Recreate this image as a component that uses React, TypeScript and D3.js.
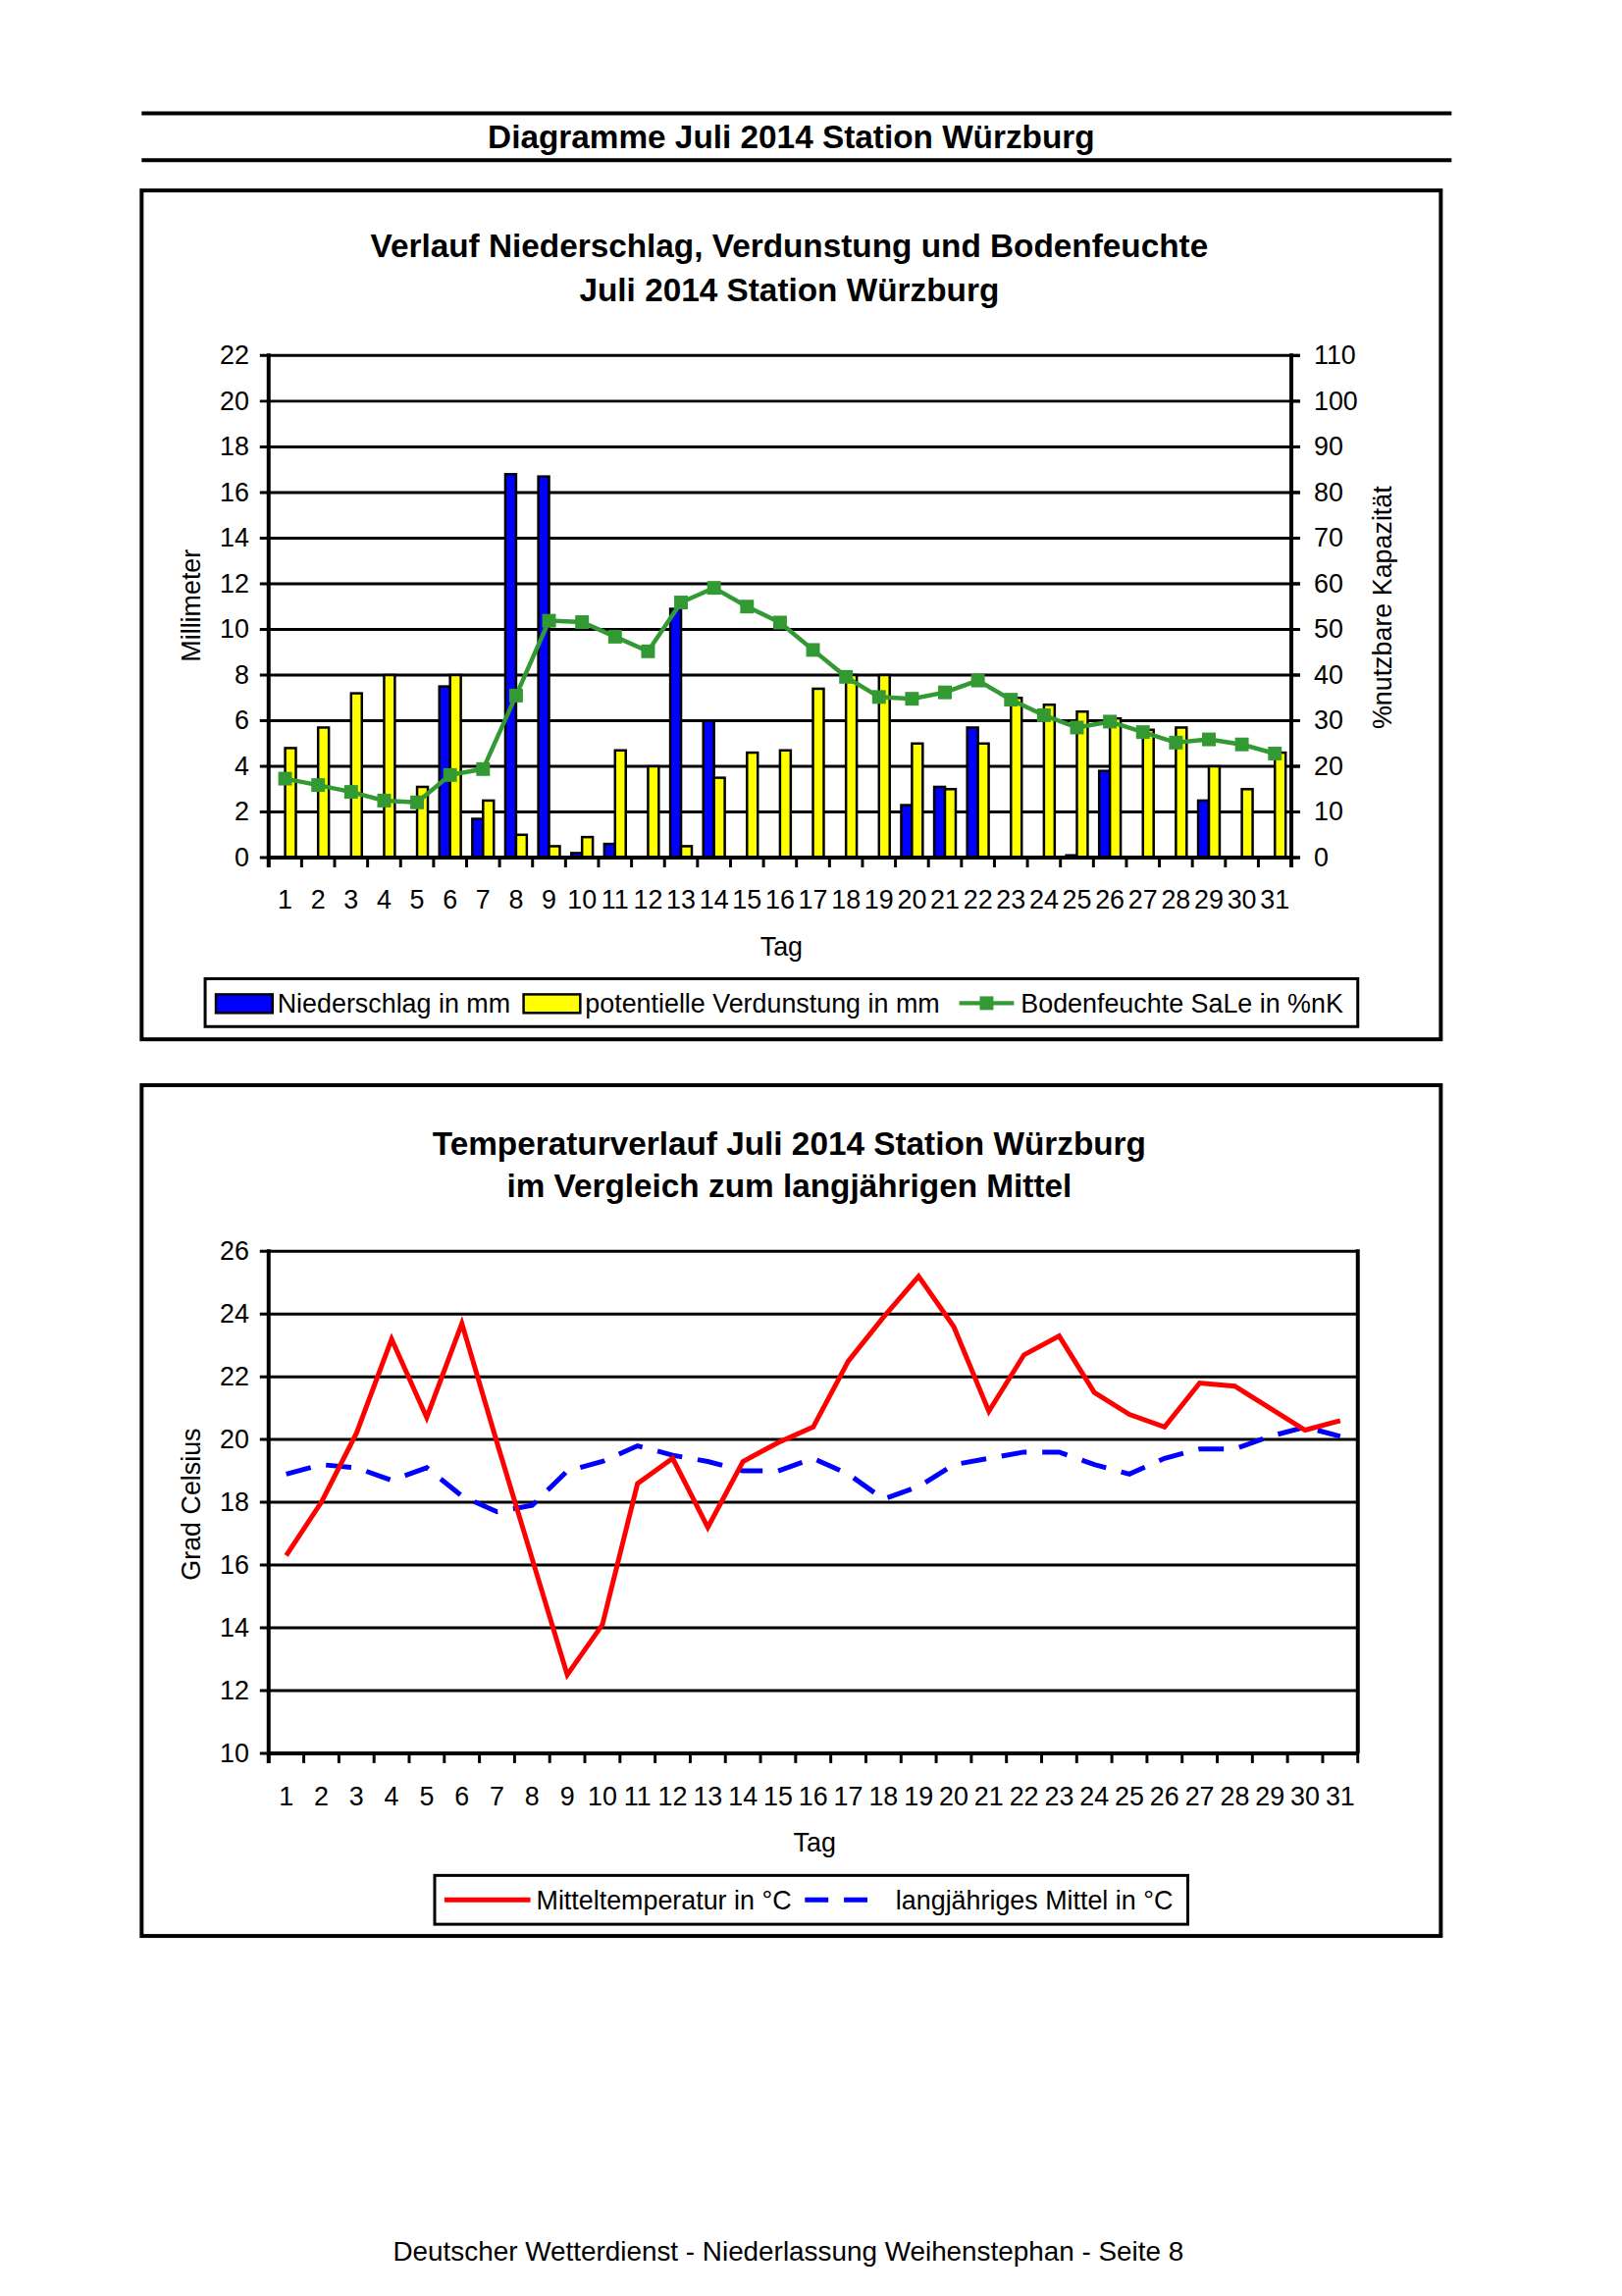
import React from 'react';
import * as d3 from 'd3';

const dayLabels = ['1', '2', '3', '4', '5', '6', '7', '8', '9', '10', '11', '12', '13', '14', '15', '16',
    '17', '18', '19', '20', '21', '22', '23', '24', '25', '26', '27', '28', '29', '30', '31'];

// mm
const niederschlag = [0, 0, 0, 0, 0, 7.5, 1.7, 16.8, 16.7, 0.2, 0.6, 0, 10.9, 6.0, 0, 0, 0, 0, 0, 2.3, 3.1, 5.7,
    0, 0, 0.1, 3.8, 0, 0, 2.5, 0, 0];
const verdunstung = [4.8, 5.7, 7.2, 8.0, 3.1, 8.0, 2.5, 1.0, 0.5, 0.9, 4.7, 4.0, 0.5, 3.5, 4.6, 4.7, 7.4, 8.0, 8.0,
    5.0, 3.0, 5.0, 7.0, 6.7, 6.4, 6.1, 5.6, 5.7, 4.0, 3.0, 4.6];
// %nK
const bodenfeuchte = [17.3, 15.9, 14.4, 12.5, 12.1, 18.1, 19.4, 35.5, 51.9, 51.6, 48.4, 45.2, 55.9, 59.1, 55.0, 51.5,
    45.5, 39.6, 35.2, 34.8, 36.2, 38.8, 34.6, 31.2, 28.5, 29.8, 27.5, 25.2, 25.9, 24.8, 22.8];

// °C
const mitteltemp = [16.3, 18.0, 20.2, 23.2, 20.7, 23.7, 19.9, 16.2, 12.5, 14.1, 18.6, 19.4, 17.2, 19.3, 19.9, 20.4,
    22.5, 23.9, 25.2, 23.6, 20.9, 22.7, 23.3, 21.5, 20.8, 20.4, 21.8, 21.7, 21.0, 20.3, 20.6];
const langMittel = [18.9, 19.2, 19.1, 18.7, 19.1, 18.2, 17.7, 17.9, 19.0, 19.3, 19.8, 19.5, 19.3, 19.0, 19.0, 19.4,
    18.9, 18.1, 18.5, 19.2, 19.4, 19.6, 19.6, 19.2, 18.9, 19.4, 19.7, 19.7, 20.1, 20.4, 20.1];

const mmTicks = [0, 2, 4, 6, 8, 10, 12, 14, 16, 18, 20, 22];
const pctTicks = [0, 10, 20, 30, 40, 50, 60, 70, 80, 90, 100, 110];
const tempTicks = [10, 12, 14, 16, 18, 20, 22, 24, 26];

const FONT = 'Liberation Sans, Arial, sans-serif';
const GREEN = '#339933';
const TITLE_SIZE = 33.5;

function Chart1() {
    const m = {left: 275, right: 1322, top: 364, bottom: 878};
    const x = d3.scaleBand().domain(dayLabels).range([m.left, m.right]);
    const pair = d3.scaleBand().domain(['n', 'v']).range([0, 22]);
    const off = (x.bandwidth() - 22) / 2;
    const y = d3.scaleLinear().domain([0, 22]).range([m.bottom, m.top]);
    const y2 = d3.scaleLinear().domain([0, 110]).range([m.bottom, m.top]);
    const cx = (d: string) => (x(d) as number) + x.bandwidth() / 2;
    const line = d3.line<number>().x((_, i) => cx(dayLabels[i])).y(d => y2(d));
    const boundaries = dayLabels.map(d => x(d) as number).concat([m.right]);

    return (
        <g fontFamily={FONT}>
            <rect x={145} y={195} width={1330} height={869} fill="white" stroke="black" strokeWidth={4}/>
            <text x={808} y={263} textAnchor="middle" fontWeight="bold" fontSize={TITLE_SIZE}>
                Verlauf Niederschlag, Verdunstung und Bodenfeuchte
            </text>
            <text x={808} y={308} textAnchor="middle" fontWeight="bold" fontSize={TITLE_SIZE}>
                Juli 2014 Station Würzburg
            </text>
            {mmTicks.map(t => (
                <g key={'g' + t}>
                    <line x1={m.left - 9} x2={m.right + 9} y1={y(t)} y2={y(t)} stroke="black" strokeWidth={3}/>
                    <text x={255} y={y(t) + 9} textAnchor="end" fontSize={27}>{t}</text>
                </g>
            ))}
            {pctTicks.map(t => (
                <text key={'p' + t} x={1345} y={y2(t) + 9} fontSize={27}>{t}</text>
            ))}
            {dayLabels.map((d, i) => (
                <g key={'b' + d}>
                    {niederschlag[i] > 0 && (
                        <rect x={(x(d) as number) + off + (pair('n') as number)} y={y(niederschlag[i])}
                              width={pair.bandwidth()} height={y(0) - y(niederschlag[i])}
                              fill="#0000FF" stroke="black" strokeWidth={2.5}/>
                    )}
                    <rect x={(x(d) as number) + off + (pair('v') as number)} y={y(verdunstung[i])}
                          width={pair.bandwidth()} height={y(0) - y(verdunstung[i])}
                          fill="#FFFF00" stroke="black" strokeWidth={2.5}/>
                </g>
            ))}
            <path d={line(bodenfeuchte) as string} fill="none" stroke={GREEN} strokeWidth={4.5}/>
            {bodenfeuchte.map((v, i) => (
                <rect key={'m' + i} x={cx(dayLabels[i]) - 7} y={y2(v) - 7} width={14} height={14} fill={GREEN}/>
            ))}
            <line x1={m.left} x2={m.left} y1={m.top - 2} y2={m.bottom + 10} stroke="black" strokeWidth={4}/>
            <line x1={m.right} x2={m.right} y1={m.top - 2} y2={m.bottom + 10} stroke="black" strokeWidth={4}/>
            <line x1={m.left} x2={m.right} y1={m.bottom} y2={m.bottom} stroke="black" strokeWidth={4}/>
            {pctTicks.map(t => (
                <line key={'rt' + t} x1={m.right} x2={m.right + 9} y1={y2(t)} y2={y2(t)} stroke="black" strokeWidth={3}/>
            ))}
            {boundaries.map((b, i) => (
                <line key={'xt' + i} x1={b} x2={b} y1={m.bottom} y2={m.bottom + 10} stroke="black" strokeWidth={3}/>
            ))}
            {dayLabels.map(d => (
                <text key={'xl' + d} x={cx(d)} y={930} textAnchor="middle" fontSize={27}>{d}</text>
            ))}
            <text x={800} y={978} textAnchor="middle" fontSize={27}>Tag</text>
            <text transform="translate(205,620) rotate(-90)" textAnchor="middle" fontSize={27}>Millimeter</text>
            <text transform="translate(1424,622) rotate(-90)" textAnchor="middle" fontSize={27}>%nutzbare Kapazität</text>

            <rect x={210} y={1002} width={1180} height={49} fill="white" stroke="black" strokeWidth={3}/>
            <rect x={221} y={1018} width={58} height={19} fill="#0000FF" stroke="black" strokeWidth={2.5}/>
            <text x={284} y={1037} fontSize={27}>Niederschlag in mm</text>
            <rect x={536} y={1018} width={58} height={19} fill="#FFFF00" stroke="black" strokeWidth={2.5}/>
            <text x={599} y={1037} fontSize={27}>potentielle Verdunstung in mm</text>
            <line x1={982} x2={1038} y1={1027} y2={1027} stroke={GREEN} strokeWidth={4.5}/>
            <rect x={1003} y={1020} width={14} height={14} fill={GREEN}/>
            <text x={1045} y={1037} fontSize={27}>Bodenfeuchte SaLe in %nK</text>
        </g>
    );
}

function Chart2() {
    const m = {left: 275, right: 1390, top: 1281, bottom: 1795};
    const x = d3.scaleBand().domain(dayLabels).range([m.left, m.right]);
    const y = d3.scaleLinear().domain([10, 26]).range([m.bottom, m.top]);
    const cx = (d: string) => (x(d) as number) + x.bandwidth() / 2;
    const line = d3.line<number>().x((_, i) => cx(dayLabels[i])).y(d => y(d));
    const boundaries = dayLabels.map(d => x(d) as number).concat([m.right]);

    return (
        <g fontFamily={FONT}>
            <rect x={145} y={1111} width={1330} height={871} fill="white" stroke="black" strokeWidth={4}/>
            <text x={808} y={1182} textAnchor="middle" fontWeight="bold" fontSize={TITLE_SIZE}>
                Temperaturverlauf Juli 2014 Station Würzburg
            </text>
            <text x={808} y={1226} textAnchor="middle" fontWeight="bold" fontSize={TITLE_SIZE}>
                im Vergleich zum langjährigen Mittel
            </text>
            {tempTicks.map(t => (
                <g key={'g' + t}>
                    <line x1={m.left - 9} x2={m.right} y1={y(t)} y2={y(t)} stroke="black" strokeWidth={3}/>
                    <text x={255} y={y(t) + 9} textAnchor="end" fontSize={27}>{t}</text>
                </g>
            ))}
            <line x1={m.left} x2={m.left} y1={m.top - 2} y2={m.bottom + 10} stroke="black" strokeWidth={4}/>
            <line x1={m.right} x2={m.right} y1={m.top - 2} y2={m.bottom} stroke="black" strokeWidth={4}/>
            <line x1={m.left} x2={m.right} y1={m.bottom} y2={m.bottom} stroke="black" strokeWidth={4}/>
            {boundaries.map((b, i) => (
                <line key={'xt' + i} x1={b} x2={b} y1={m.bottom} y2={m.bottom + 10} stroke="black" strokeWidth={3}/>
            ))}
            <path d={line(langMittel) as string} fill="none" stroke="#0000FF" strokeWidth={5}
                  strokeDasharray="26 16"/>
            <path d={line(mitteltemp) as string} fill="none" stroke="#FF0000" strokeWidth={5}/>
            {dayLabels.map(d => (
                <text key={'xl' + d} x={cx(d)} y={1848} textAnchor="middle" fontSize={27}>{d}</text>
            ))}
            <text x={834} y={1896} textAnchor="middle" fontSize={27}>Tag</text>
            <text transform="translate(205,1540) rotate(-90)" textAnchor="middle" fontSize={27}>Grad Celsius</text>

            <rect x={445} y={1920} width={771} height={50} fill="white" stroke="black" strokeWidth={3}/>
            <line x1={455} x2={543} y1={1945} y2={1945} stroke="#FF0000" strokeWidth={5}/>
            <text x={549} y={1955} fontSize={27}>Mitteltemperatur in °C</text>
            <line x1={824} x2={903} y1={1945} y2={1945} stroke="#0000FF" strokeWidth={5} strokeDasharray="24 16"/>
            <text x={917} y={1955} fontSize={27}>langjähriges Mittel in °C</text>
        </g>
    );
}

export default function App() {
    return (
        <svg width={1653} height={2340} viewBox="0 0 1653 2340"
             style={{position: 'absolute', left: 0, top: 0, background: 'white'}}>
            <rect width={1653} height={2340} fill="white"/>
            {/* whole page was measured a touch too large */}
            <g transform="scale(0.9955)">
                <line x1={145} x2={1486} y1={116} y2={116} stroke="black" strokeWidth={4}/>
                <text x={810} y={152} textAnchor="middle" fontFamily={FONT} fontWeight="bold" fontSize={TITLE_SIZE}>
                    Diagramme Juli 2014 Station Würzburg
                </text>
                <line x1={145} x2={1486} y1={164} y2={164} stroke="black" strokeWidth={4}/>
                <Chart1/>
                <Chart2/>
                <text x={807} y={2314} textAnchor="middle" fontFamily={FONT} fontSize={28}>
                    Deutscher Wetterdienst - Niederlassung Weihenstephan - Seite 8
                </text>
            </g>
        </svg>
    );
}
